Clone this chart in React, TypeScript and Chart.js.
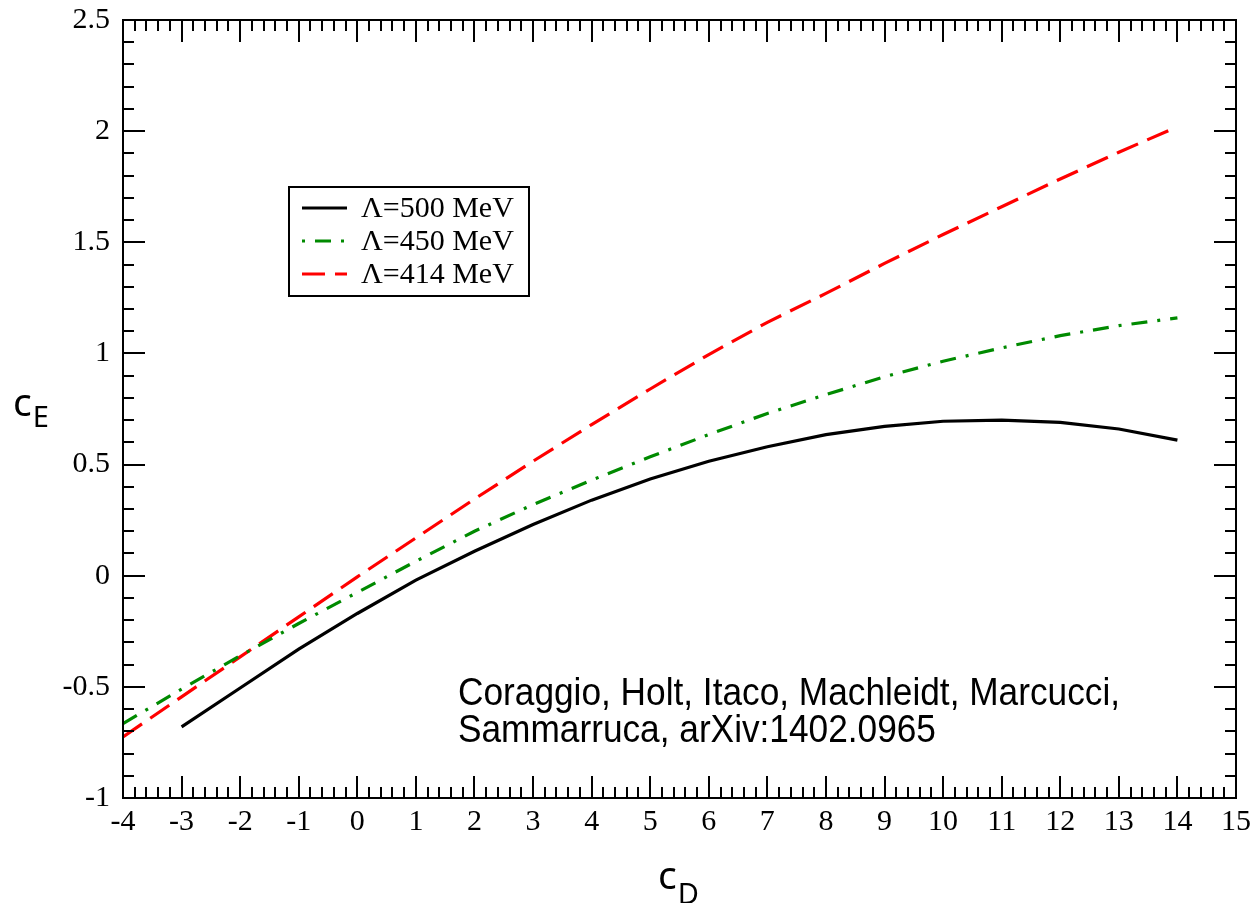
import React, { useEffect, useRef } from 'react';
import { Chart, registerables } from 'chart.js';

Chart.register(...registerables);

// ---- data ----
const cd500 = [-3, -2, -1, 0, 1, 2, 3, 4, 5, 6, 7, 8, 9, 10, 11, 12, 13, 14];
const ce500 = [-0.68, -0.505, -0.33, -0.17, -0.02, 0.11, 0.23, 0.34, 0.435, 0.515, 0.58, 0.635, 0.672, 0.695, 0.7, 0.69, 0.66, 0.61];

const cdAll = [-4, -3, -2, -1, 0, 1, 2, 3, 4, 5, 6, 7, 8, 9, 10, 11, 12, 13, 14];
const ce450 = [-0.665, -0.51, -0.36, -0.215, -0.075, 0.065, 0.2, 0.32, 0.43, 0.535, 0.635, 0.73, 0.815, 0.895, 0.965, 1.025, 1.08, 1.125, 1.16];
const ce414 = [-0.725, -0.545, -0.365, -0.185, -0.005, 0.17, 0.345, 0.515, 0.68, 0.84, 0.995, 1.14, 1.27, 1.405, 1.535, 1.66, 1.785, 1.905, 2.02];

const seriesLabels = ['Λ=500 MeV', 'Λ=450 MeV', 'Λ=414 MeV'];

const xTickValues = [-4, -3, -2, -1, 0, 1, 2, 3, 4, 5, 6, 7, 8, 9, 10, 11, 12, 13, 14, 15];
const yTickValues = [-1, -0.5, 0, 0.5, 1, 1.5, 2, 2.5];

const noteLines = ['Coraggio, Holt, Itaco, Machleidt, Marcucci,', 'Sammarruca, arXiv:1402.0965'];

const SERIF = '"Liberation Serif", "Times New Roman", serif';
const SANS = '"Noto Sans", "DejaVu Sans", sans-serif';

const decorPlugin = {
  id: 'decor',
  afterDraw(chart: any) {
    const ctx: CanvasRenderingContext2D = chart.ctx;
    const { left, right, top, bottom } = chart.chartArea;
    const xs = chart.scales.x;
    const ys = chart.scales.y;
    ctx.save();
    ctx.strokeStyle = '#000';
    ctx.lineWidth = 2;
    ctx.setLineDash([]);
    // x ticks (major every 1, minor every 0.2) on bottom and top
    for (let i = 0; i <= 95; i++) {
      const v = -4 + i * 0.2;
      const px = Math.round(xs.getPixelForValue(v));
      const len = i % 5 === 0 ? 22 : 11;
      ctx.beginPath();
      ctx.moveTo(px, bottom);
      ctx.lineTo(px, bottom - len);
      ctx.moveTo(px, top);
      ctx.lineTo(px, top + len);
      ctx.stroke();
    }
    // y ticks (major every 0.5, minor every 0.1) on left and right
    for (let i = 0; i <= 35; i++) {
      const v = -1 + i * 0.1;
      const py = Math.round(ys.getPixelForValue(v));
      const len = i % 5 === 0 ? 22 : 11;
      ctx.beginPath();
      ctx.moveTo(left, py);
      ctx.lineTo(left + len, py);
      ctx.moveTo(right, py);
      ctx.lineTo(right - len, py);
      ctx.stroke();
    }
    // frame
    ctx.strokeRect(left, top, right - left, bottom - top);

    // legend box
    const bx = 289, by = 187, bw = 240, bh = 109;
    ctx.fillStyle = '#fff';
    ctx.fillRect(bx, by, bw, bh);
    ctx.lineWidth = 2;
    ctx.strokeStyle = '#000';
    ctx.strokeRect(bx, by, bw, bh);
    const rows = [208, 241, 274];
    chart.data.datasets.forEach((ds: any, i: number) => {
      const yy = rows[i];
      ctx.save();
      ctx.strokeStyle = ds.borderColor;
      ctx.lineWidth = ds.borderWidth;
      ctx.setLineDash(ds.borderDash || []);
      ctx.lineDashOffset = i === 1 ? 26 : 0;
      ctx.beginPath();
      ctx.moveTo(302, yy);
      ctx.lineTo(347, yy);
      ctx.stroke();
      ctx.restore();
      ctx.fillStyle = '#000';
      ctx.font = `30px ${SERIF}`;
      ctx.textAlign = 'left';
      ctx.textBaseline = 'middle';
      ctx.fillText(ds.label, 361, yy + 1);
    });

    // annotation text (condensed sans)
    ctx.fillStyle = '#000';
    ctx.font = `38px "Liberation Sans", Arial, sans-serif`;
    ctx.textAlign = 'left';
    ctx.textBaseline = 'alphabetic';
    const w0 = ctx.measureText(noteLines[0]).width;
    const sx = 662 / w0;
    ctx.save();
    ctx.translate(458, 0);
    ctx.scale(sx, 1);
    ctx.fillText(noteLines[0], 0, 705);
    ctx.fillText(noteLines[1], 0, 742);
    ctx.restore();

    // axis titles with subscripts
    ctx.font = `39px ${SANS}`;
    const cw = ctx.measureText('c').width;
    ctx.fillText('c', 13, 416);
    ctx.fillText('c', 658, 889);
    ctx.font = `29px ${SANS}`;
    ctx.fillText('E', 13 + cw + 1, 427);
    ctx.fillText('D', 658 + cw + 1, 904);
    ctx.restore();
  },
};

export default function App() {
  const ref = useRef<HTMLCanvasElement | null>(null);
  useEffect(() => {
    if (!ref.current) return;
    const chart = new Chart(ref.current, {
      type: 'line',
      data: {
        datasets: [
          {
            label: seriesLabels[0],
            data: cd500.map((x, i) => ({ x, y: ce500[i] })),
            borderColor: '#000000',
            borderWidth: 3.2,
            borderDash: [],
            pointRadius: 0,
            fill: false,
            tension: 0,
          },
          {
            label: seriesLabels[1],
            data: cdAll.map((x, i) => ({ x, y: ce450[i] })),
            borderColor: '#008a00',
            borderWidth: 3.2,
            borderDash: [16, 10, 3, 10],
            borderCapStyle: 'butt',
            pointRadius: 0,
            fill: false,
            tension: 0,
          },
          {
            label: seriesLabels[2],
            data: cdAll.map((x, i) => ({ x, y: ce414[i] })),
            borderColor: '#ff0000',
            borderWidth: 3.2,
            borderDash: [23, 10],
            borderCapStyle: 'butt',
            pointRadius: 0,
            fill: false,
            tension: 0,
          },
        ],
      },
      options: {
        animation: false,
        responsive: false,
        devicePixelRatio: 1,
        layout: { padding: { left: 0, top: 20, right: 17, bottom: 0 } },
        plugins: { legend: { display: false }, tooltip: { enabled: false }, title: { display: false } },
        scales: {
          x: {
            type: 'linear',
            min: -4,
            max: 15,
            afterBuildTicks: (s: any) => {
              s.ticks = xTickValues.map((v) => ({ value: v }));
            },
            afterFit: (s: any) => {
              s.height = 105;
              s.paddingLeft = 0;
              s.paddingRight = 0;
            },
            grid: { display: false, drawTicks: false },
            border: { display: false },
            ticks: {
              autoSkip: false,
              maxRotation: 0,
              padding: 6,
              color: '#000',
              font: { family: SERIF, size: 30 },
              callback: (v: any) => String(v),
            },
          },
          y: {
            type: 'linear',
            min: -1,
            max: 2.5,
            afterBuildTicks: (s: any) => {
              s.ticks = yTickValues.map((v) => ({ value: v }));
            },
            afterFit: (s: any) => {
              s.width = 123;
              s.paddingTop = 0;
              s.paddingBottom = 0;
            },
            grid: { display: false, drawTicks: false },
            border: { display: false },
            ticks: {
              autoSkip: false,
              padding: 13,
              color: '#000',
              font: { family: SERIF, size: 30 },
              callback: (v: any) => String(v),
            },
          },
        },
      },
      plugins: [decorPlugin],
    } as any);
    return () => chart.destroy();
  }, []);
  return (
    <div style={{ position: 'absolute', left: 0, top: 0, width: 1253, height: 903, background: '#fff' }}>
      <canvas ref={ref} width={1253} height={903} style={{ display: 'block' }} />
    </div>
  );
}
